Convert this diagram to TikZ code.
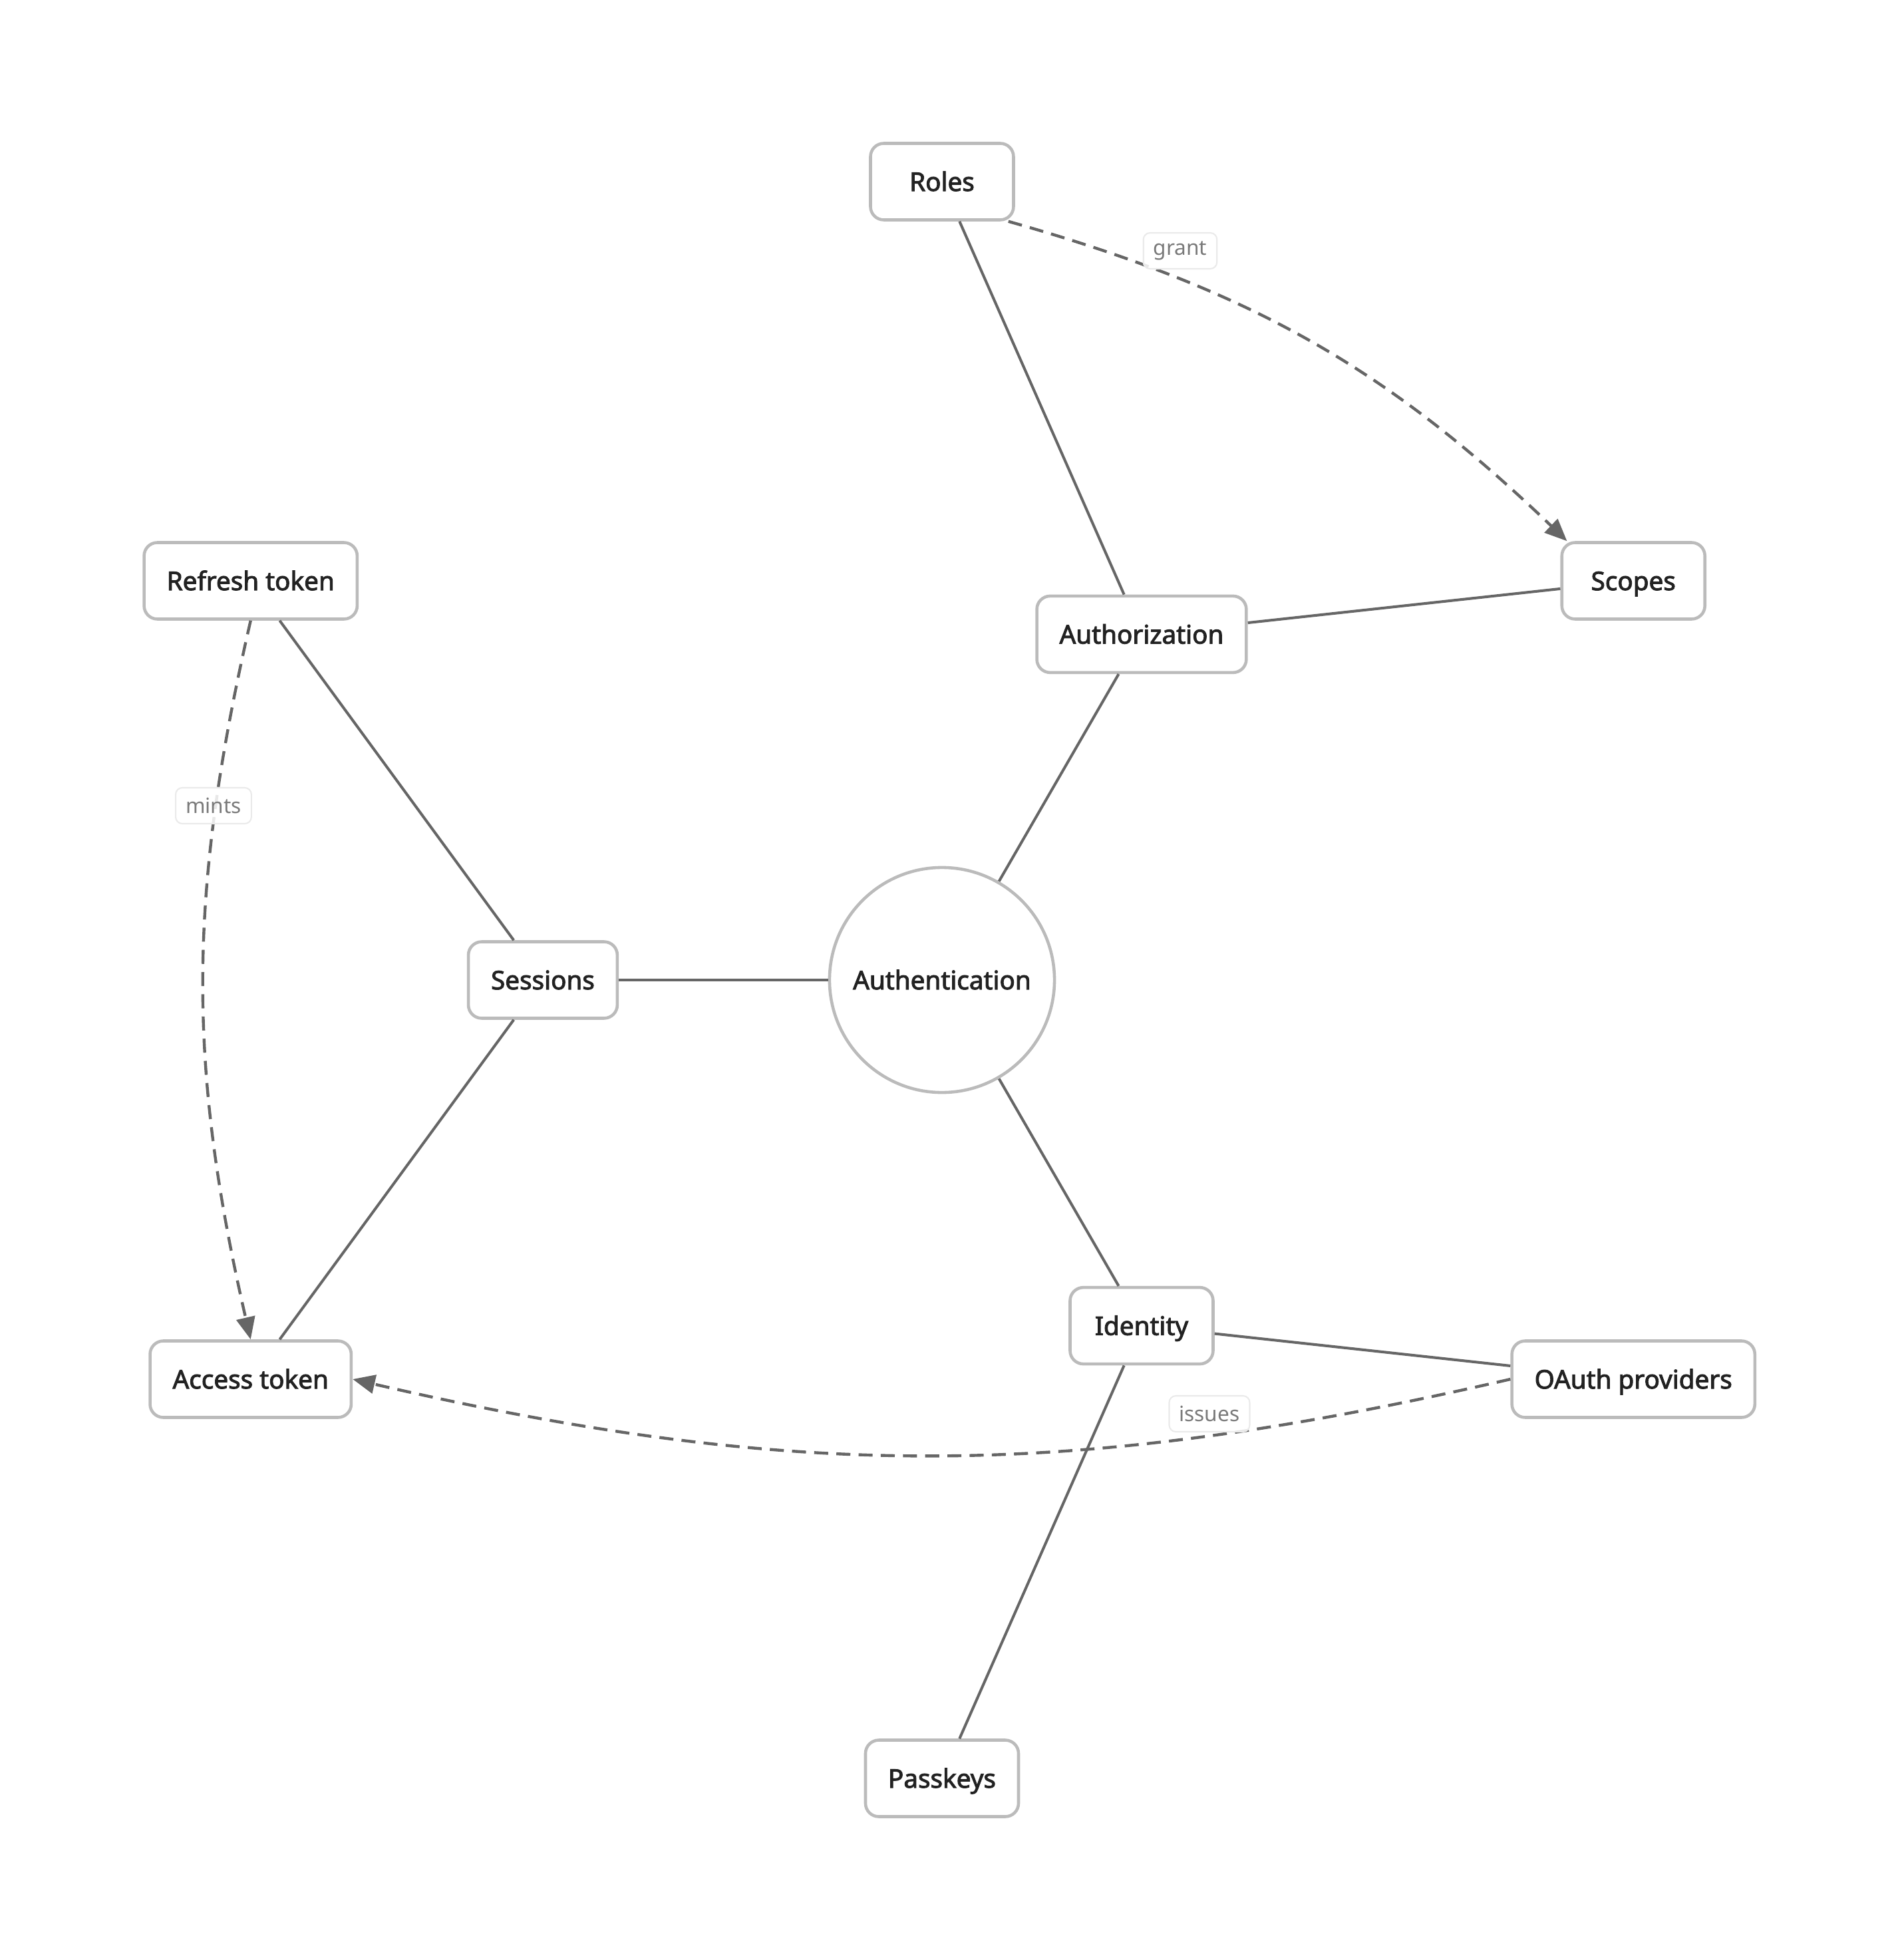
\documentclass[tikz,border=0pt]{standalone}
\usepackage{fontspec}
\setmainfont{Noto Sans}
\newfontfamily\boxfont{Noto Sans}[FakeBold=2.5]
\usetikzlibrary{arrows.meta}

\definecolor{linegray}{HTML}{666666}
\definecolor{framegray}{HTML}{BBBBBB}
\definecolor{inkgray}{HTML}{222222}
\definecolor{notegray}{HTML}{7A7A7A}
\definecolor{noteframe}{HTML}{EAEAEA}

\tikzset{
    topic/.style={draw=framegray, line width=1.3pt, fill=white, rounded corners=0.2cm,
        minimum width=2.15cm, minimum height=1.15cm, inner xsep=0.34cm,
        text height=0.8em, text depth=0pt,
        text=inkgray, font=\boxfont\fontsize{11}{13}\selectfont},
    hub/.style={topic, circle, sharp corners, minimum size=3.34cm},
    link/.style={draw=linegray, line width=1.15pt},
    flow/.style={draw=linegray, line width=1.25pt, dash pattern=on 6pt off 3.5pt,
        -{Triangle[length=9.5pt, width=8pt]}},
    note/.style={draw=noteframe, line width=0.6pt, fill=white, fill opacity=0.85, text opacity=1,
        rounded corners=0.1cm, text=notegray, font=\fontsize{9}{11}\selectfont,
        minimum height=0.54cm, inner xsep=0.15cm, inner ysep=0.05cm}
}

\begin{document}
\begin{tikzpicture}
\useasboundingbox (-14.16,-14.73) rectangle (14.37,14.73);

\node[hub] (auth) at (0,0) {Authentication};

% inner ring
\foreach \ang/\id/\txt in {60/authz/Authorization, 180/sess/Sessions, 300/ident/Identity}
    \node[topic] (\id) at (\ang:6) {\txt};

% outer ring
\foreach \ang/\id/\txt in {90/roles/Roles, 30/scopes/Scopes, 150/refresh/Refresh token,
        210/access/Access token, 330/oauth/OAuth providers, 270/passkeys/Passkeys}
    \node[topic] (\id) at (\ang:12) {\txt};

\foreach \x/\y in {auth/authz, auth/sess, auth/ident, authz/roles, authz/scopes,
        sess/refresh, sess/access, ident/oauth, ident/passkeys}
    \draw[link] (\x) -- (\y);

%\draw[flow] (roles) to[bend left=14] (scopes);
\draw[flow] ([xshift=-.1cm]roles.south east) to[bend left=14] ([xshift=.1cm]scopes.north west);
\draw[flow] (refresh.south) to[bend right=13] (access.north);
\draw[flow] (oauth.west) to[bend left=13] (access.east);

\node[note] (grant) at (3.58,10.96) {grant};
\node[note] (mints) at (-10.95,2.62) {mints};
\node[note] (issues) at (4.02,-6.52) {issues};
\end{tikzpicture}
\end{document}
